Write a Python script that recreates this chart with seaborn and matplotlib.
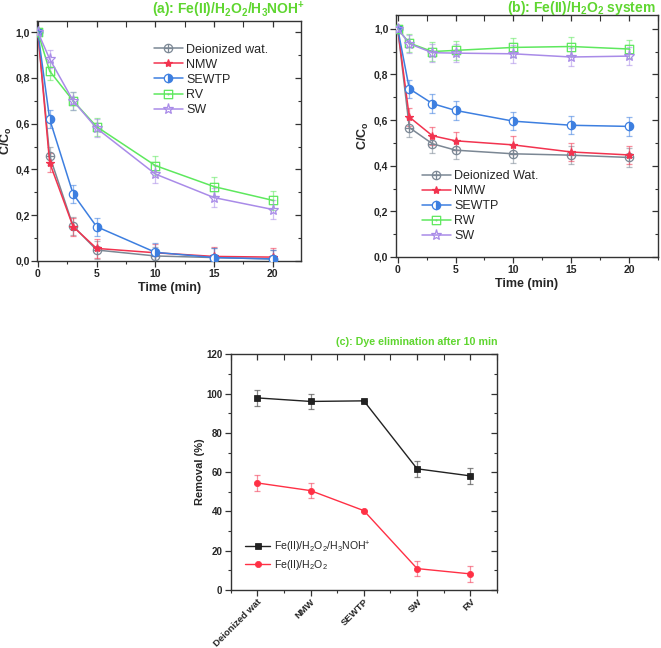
import numpy as np
import pandas as pd
import matplotlib
matplotlib.use("Agg")
import matplotlib.pyplot as plt
import seaborn as sns
from matplotlib.path import Path
from matplotlib.ticker import MultipleLocator, FuncFormatter, FixedLocator

sns.set_style("white")
plt.rcParams['font.family'] = ['Liberation Sans', 'DejaVu Sans']
plt.rcParams['mathtext.default'] = 'regular'

# ---------------- data ----------------
time_min = [0, 1, 3, 5, 10, 15, 20]

# panel (a): Fe(II)/H2O2/H3NOH+
a_labels = ["Deionized wat.", "NMW", "SEWTP", "RV", "SW"]
a_deion = [1.0, 0.459, 0.153, 0.048, 0.022, 0.015, 0.009]
a_nmw = [1.0, 0.430, 0.150, 0.055, 0.036, 0.020, 0.017]
a_sewtp = [1.0, 0.620, 0.293, 0.150, 0.038, 0.015, 0.009]
a_rv = [1.0, 0.830, 0.700, 0.587, 0.417, 0.325, 0.265]
a_sw = [1.0, 0.883, 0.700, 0.580, 0.380, 0.277, 0.225]
a_err = [0.0, 0.04, 0.04, 0.04, 0.04, 0.04, 0.04]

# panel (b): Fe(II)/H2O2
b_labels = ["Deionized Wat.", "NMW", "SEWTP", "RW", "SW"]
b_deion = [1.0, 0.567, 0.496, 0.468, 0.452, 0.446, 0.436]
b_nmw = [1.0, 0.613, 0.531, 0.509, 0.491, 0.460, 0.447]
b_sewtp = [1.0, 0.737, 0.672, 0.642, 0.595, 0.577, 0.572]
b_rw = [1.0, 0.937, 0.900, 0.905, 0.918, 0.922, 0.911]
b_sw = [1.0, 0.934, 0.895, 0.893, 0.890, 0.876, 0.880]
b_err = [0.0, 0.04, 0.04, 0.04, 0.04, 0.04, 0.04]

# panel (c): removal after 10 min
c_categories = ["Deionized wat", "NMW", "SEWTP", "SW", "RV"]
c_hya = [97.8, 96.0, 96.3, 61.7, 58.1]
c_hya_err = [4, 4, 0, 4, 4]
c_fenton = [54.5, 50.6, 40.4, 10.9, 8.2]
c_fenton_err = [4, 4, 0, 4, 4]
c_labels = ["Fe(II)/H$_2$O$_2$/H$_3$NOH$^{+}$", "Fe(II)/H$_2$O$_2$"]

# ---------------- styles ----------------
GREEN_TITLE = "#5fd630"
col = {"deion": "#7b8794", "nmw": "#f2334f", "sewtp": "#3d7fe0",
       "rv": "#5ee85e", "sw": "#a98be8"}

circ_plus = Path.make_compound_path(
    Path.unit_circle(),
    Path([[-1, 0], [1, 0]], [Path.MOVETO, Path.LINETO]),
    Path([[0, -1], [0, 1]], [Path.MOVETO, Path.LINETO]))
sq = Path([[-1, -1], [1, -1], [1, 1], [-1, 1], [-1, -1]],
          [Path.MOVETO, Path.LINETO, Path.LINETO, Path.LINETO, Path.CLOSEPOLY])
small = Path.circle((0, 0), 0.08)
sq_dot = Path.make_compound_path(sq, small)

def comma(v, pos):
    return f"{v:.1f}".replace(".", ",")

fig = plt.figure(figsize=(6.61, 6.48), dpi=100)

def style_axes(ax, xmaj, xmin, ymaj, ymin, fs):
    for s in ax.spines.values():
        s.set_visible(True)
        s.set_color("#333333")
        s.set_linewidth(1.0)
    ax.xaxis.set_major_locator(xmaj)
    ax.xaxis.set_minor_locator(xmin)
    ax.yaxis.set_major_locator(ymaj)
    ax.yaxis.set_minor_locator(ymin)
    ax.tick_params(which='both', direction='out', top=False, right=False,
                   left=True, bottom=True, color="#333333", labelsize=fs,
                   pad=2)
    ax.tick_params(which='major', length=4, width=0.9)
    ax.tick_params(which='minor', length=2.5, width=0.8)
    for lab in ax.get_xticklabels() + ax.get_yticklabels():
        lab.set_fontweight('bold')
    # inward ticks on top / right
    top = ax.secondary_xaxis('top')
    top.xaxis.set_major_locator(xmaj)
    top.xaxis.set_minor_locator(xmin)
    top.tick_params(which='both', direction='in', labeltop=False, color="#333333")
    top.tick_params(which='major', length=4, width=0.9)
    top.tick_params(which='minor', length=4, width=0.8)
    top.spines['top'].set_visible(False)
    rgt = ax.secondary_yaxis('right')
    rgt.yaxis.set_major_locator(ymaj)
    rgt.yaxis.set_minor_locator(ymin)
    rgt.tick_params(which='both', direction='in', labelright=False, color="#333333")
    rgt.tick_params(which='major', length=4, width=0.9)
    rgt.tick_params(which='minor', length=2.5, width=0.8)
    rgt.spines['right'].set_visible(False)


def kinetic_panel(ax, series, labels, err):
    specs = [
        dict(c=col["deion"], marker=circ_plus, mfc='none', ms=6),
        dict(c=col["nmw"], marker='*', mfc=col["nmw"], ms=6),
        dict(c=col["sewtp"], marker='o', mfc=col["sewtp"], ms=6, fillstyle='right'),
        dict(c=col["rv"], marker=sq_dot, mfc='none', ms=6),
        dict(c=col["sw"], marker='*', mfc='none', ms=8),
    ]
    for vals, lab, sp in zip(series, labels, specs):
        ax.errorbar(time_min, vals, yerr=err, fmt='none', ecolor=sp["c"],
                    alpha=0.55, elinewidth=0.9, capsize=2.5, capthick=0.9, zorder=1)
        extra = {}
        if "fillstyle" in sp:
            extra = dict(fillstyle='right', markerfacecoloralt='white')
        sns.lineplot(x=time_min, y=vals, ax=ax, color=sp["c"], label=lab,
                     marker=sp["marker"], markersize=sp["ms"],
                     markerfacecolor=sp["mfc"], mec=sp["c"], mew=0.9,
                     linewidth=1.1, zorder=3, **extra)
    ax.set_xlabel("Time (min)", fontsize=9, fontweight='bold', labelpad=2)
    ax.set_ylabel("C/C$_o$", fontsize=9, fontweight='bold')
    ax.yaxis.set_major_formatter(FuncFormatter(comma))


# ---- panel (a)
ax_a = fig.add_axes([37.3/661, 1-261/648, (301-37.3)/661, (261-20.7)/648])
kinetic_panel(ax_a, [a_deion, a_nmw, a_sewtp, a_rv, a_sw], a_labels, a_err)
ax_a.set_xlim(-0.05, 22.4)
ax_a.set_ylim(0, 1.05)
style_axes(ax_a, MultipleLocator(5), MultipleLocator(2.5),
           MultipleLocator(0.2), MultipleLocator(0.1), 7.5)
ax_a.tick_params(axis='y', pad=1.5)
ax_a.yaxis.set_label_coords(-0.09, 0.5)
ax_a.legend(loc='upper left', bbox_to_anchor=(0.4425, 0.905), frameon=False,
            fontsize=9, handlelength=2.3, handletextpad=0.3, labelspacing=0.25,
            borderpad=0, borderaxespad=0)
fig.text(305/661, 1-10/648, "(a): Fe(II)/H$_2$O$_2$/H$_3$NOH$^{+}$", ha='right',
         va='center', fontsize=10, fontweight='bold', color=GREEN_TITLE)

# ---- panel (b)
ax_b = fig.add_axes([396/661, 1-257/648, (658-396)/661, (257-15)/648])
kinetic_panel(ax_b, [b_deion, b_nmw, b_sewtp, b_rw, b_sw], b_labels, b_err)
ax_b.set_xlim(-0.15, 22.5)
ax_b.set_ylim(0, 1.06)
style_axes(ax_b, MultipleLocator(5), MultipleLocator(2.5),
           MultipleLocator(0.2), MultipleLocator(0.1), 7.5)
ax_b.tick_params(axis='y', pad=1.5)
ax_b.yaxis.set_label_coords(-0.095, 0.5)
ax_b.legend(loc='upper left', bbox_to_anchor=(0.099, 0.36), frameon=False,
            fontsize=9, handlelength=2.3, handletextpad=0.3, labelspacing=0.25,
            borderpad=0, borderaxespad=0)
fig.text(656/661, 1-8/648, "(b): Fe(II)/H$_2$O$_2$ system", ha='right',
         va='center', fontsize=10, fontweight='bold', color=GREEN_TITLE)

# ---- panel (c)
ax_c = fig.add_axes([230.7/661, 1-590/648, (497-230.7)/661, (590-354.3)/648])
df_c = pd.DataFrame({"cat": c_categories, "pos": range(len(c_categories)),
                     "hya": c_hya, "fen": c_fenton})
ax_c.errorbar(df_c["pos"], df_c["hya"], yerr=c_hya_err, fmt='none', ecolor='#555555',
              alpha=0.7, elinewidth=0.9, capsize=2.5, capthick=0.9, zorder=1)
ax_c.errorbar(df_c["pos"], df_c["fen"], yerr=c_fenton_err, fmt='none', ecolor='#f2334f',
              alpha=0.55, elinewidth=0.9, capsize=2.5, capthick=0.9, zorder=1)
sns.lineplot(data=df_c, x="pos", y="hya", ax=ax_c, color="#222222", marker='s',
             markersize=4, mec="#111111", mew=0.5, linewidth=1.0, label=c_labels[0])
sns.lineplot(data=df_c, x="pos", y="fen", ax=ax_c, color="#ff3045", marker='o',
             markersize=4.5, mec="#ff3045", mew=0.5, linewidth=1.0, label=c_labels[1])
ax_c.set_xlim(-0.5, 4.5)
ax_c.set_ylim(0, 120)
style_axes(ax_c, FixedLocator(list(range(len(c_categories)))),
           FixedLocator([i + 0.5 for i in range(-1, len(c_categories))]),
           MultipleLocator(20), MultipleLocator(10), 7)
ax_c.set_xticks(list(range(len(c_categories))))
ax_c.set_xticklabels(c_categories, rotation=45, ha='right', rotation_mode='anchor',
                     fontsize=6.8, fontweight='bold')
ax_c.tick_params(axis='x', pad=1)
ax_c.set_xlabel("")
ax_c.set_ylabel("Removal (%)", fontsize=8, fontweight='bold')
ax_c.yaxis.set_label_coords(-0.096, 0.5)
ax_c.legend(loc='upper left', bbox_to_anchor=(0.054, 0.215), frameon=False,
            fontsize=7.6, handlelength=2.4, handletextpad=0.3, labelspacing=0.3,
            borderpad=0, borderaxespad=0)
fig.text(497/661, 1-342/648, "(c): Dye elimination after 10 min", ha='right',
         va='center', fontsize=7.7, fontweight='bold', color=GREEN_TITLE)

fig.savefig("out.png", dpi=100)
